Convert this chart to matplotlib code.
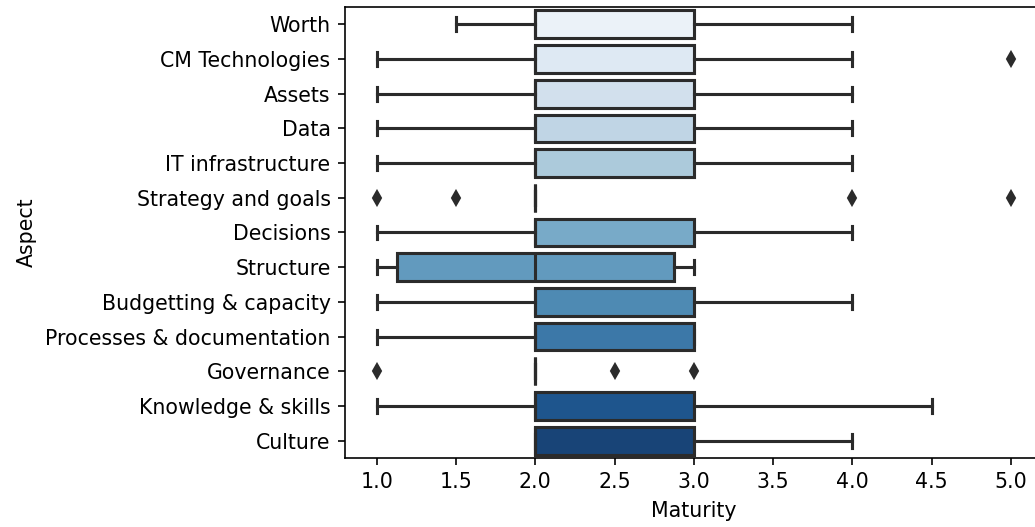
import colorsys
import matplotlib
matplotlib.use("Agg")
import matplotlib as mpl
import matplotlib.pyplot as plt
import seaborn as sns

aspects = ["Worth", "CM Technologies", "Assets", "Data", "IT infrastructure",
           "Strategy and goals", "Decisions", "Structure", "Budgetting & capacity",
           "Processes & documentation", "Governance", "Knowledge & skills", "Culture"]
whis_lo = [1.5, 1, 1, 1, 1, 2, 1, 1, 1, 1, 2, 1, 2]
q1 = [2, 2, 2, 2, 2, 2, 2, 1.125, 2, 2, 2, 2, 2]
med = [2, 2, 2, 2, 2, 2, 2, 2, 2, 2, 2, 2, 2]
q3 = [3, 3, 3, 3, 3, 2, 3, 2.875, 3, 3, 2, 3, 3]
whis_hi = [4, 4, 4, 4, 4, 2, 4, 3, 4, 3, 2, 4.5, 4]
outliers = [[], [5], [], [], [], [1, 1.5, 4, 5], [], [], [], [], [1, 2.5, 3], [], []]

# seaborn-like colours
colors = [sns.desaturate(c, 0.75) for c in sns.color_palette("Blues", len(aspects))]
lum = min(colorsys.rgb_to_hls(*c)[1] for c in colors) * .6
gray = mpl.colors.rgb2hex((lum, lum, lum))

stats = []
for i, name in enumerate(aspects):
    stats.append(dict(label=name, whislo=whis_lo[i], q1=q1[i], med=med[i],
                      q3=q3[i], whishi=whis_hi[i], fliers=outliers[i]))

DPI = 148
fig = plt.figure(figsize=(1035 / DPI, 527 / DPI), dpi=DPI)
ax = fig.add_axes([345 / 1035, 1 - 458 / 527, (1042.7 - 345) / 1035, (458 - 7) / 527])

lw = 1.5
bp = ax.bxp(stats, positions=range(len(aspects)), widths=0.8, orientation="horizontal",
            patch_artist=True, showfliers=True,
            boxprops=dict(edgecolor=gray, linewidth=lw),
            whiskerprops=dict(color=gray, linewidth=lw),
            capprops=dict(color=gray, linewidth=lw),
            medianprops=dict(color=gray, linewidth=lw),
            flierprops=dict(marker="d", markerfacecolor=gray, markeredgecolor=gray,
                            markersize=5, linestyle="none"))
for patch, c in zip(bp["boxes"], colors):
    patch.set_facecolor(c)

ax.set_ylim(len(aspects) - 0.5, -0.5)
ax.set_yticks(range(len(aspects)))
ax.set_yticklabels(aspects)
ax.set_xlim(0.8, 5.2)
ax.set_xticks([1.0, 1.5, 2.0, 2.5, 3.0, 3.5, 4.0, 4.5, 5.0])
ax.set_xlabel("Maturity")
ax.set_ylabel("Aspect")

fig.savefig("out.png", dpi=DPI)
